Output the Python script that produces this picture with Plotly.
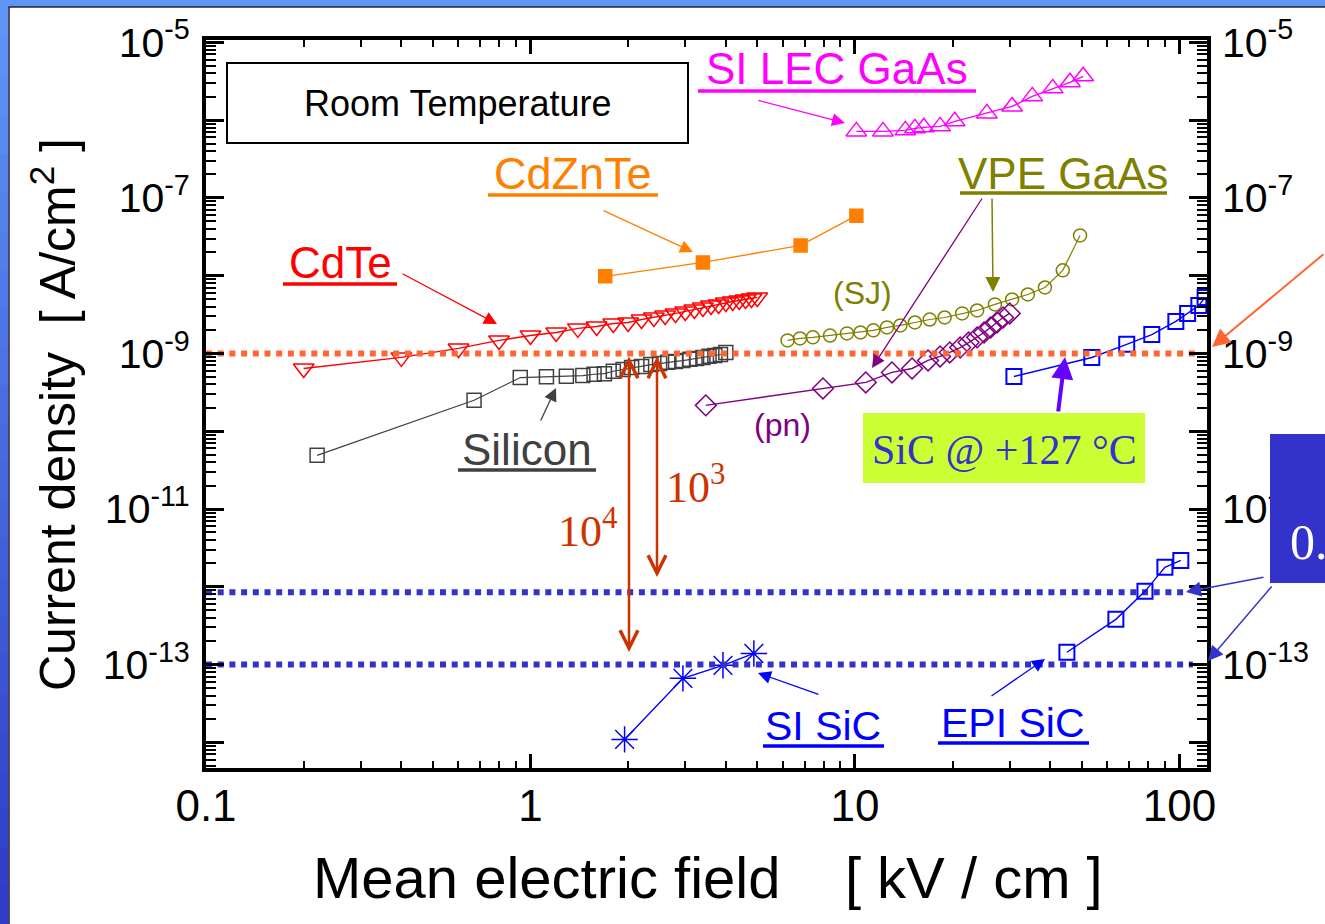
import plotly.graph_objects as go

# ---------------- data ----------------
cdte_x = [0.2, 0.4, 0.6, 0.8, 1.0, 1.2, 1.4, 1.6, 1.8, 2.0, 2.2, 2.4, 2.6, 2.8, 3.0,
          3.2, 3.4, 3.6, 3.8, 4.0, 4.2, 4.4, 4.6, 4.8, 5.0]
cdte_y = [6.4e-10, 8.9e-10, 1.16e-9, 1.47e-9, 1.70e-9, 1.86e-9, 2.10e-9, 2.22e-9, 2.43e-9,
          2.50e-9, 2.73e-9, 2.90e-9, 3.08e-9, 3.27e-9, 3.47e-9, 3.68e-9, 3.90e-9, 4.14e-9,
          4.26e-9, 4.53e-9, 4.66e-9, 4.80e-9, 4.94e-9, 5.09e-9, 5.25e-9]

si_x = [0.22, 0.67, 0.93, 1.12, 1.29, 1.45, 1.57, 1.69, 1.80, 1.93, 2.05, 2.2, 2.35, 2.5,
        2.65, 2.8, 2.95, 3.1, 3.25, 3.4, 3.55, 3.7, 3.85, 4.0]
si_y = [4.9e-11, 2.5e-10, 4.9e-10, 5.0e-10, 5.1e-10, 5.2e-10, 5.4e-10, 5.5e-10, 5.9e-10,
        6.2e-10, 6.6e-10, 6.8e-10, 7.2e-10, 7.4e-10, 7.7e-10, 7.9e-10, 8.1e-10, 8.4e-10,
        8.6e-10, 8.9e-10, 9.2e-10, 9.4e-10, 9.7e-10, 1.03e-9]

cdznte_x = [1.7, 3.4, 6.8, 10.1]
cdznte_y = [9.8e-9, 1.48e-8, 2.45e-8, 5.9e-8]

silec_x = [10.1, 12.2, 14.3, 15.3, 16.3, 18.3, 20.3, 25.5, 30.5, 35.2, 40.7, 46.0, 50.5]
silec_y = [7.16e-7, 7.16e-7, 7.38e-7, 7.83e-7, 8.07e-7, 8.31e-7, 9.64e-7, 1.22e-6, 1.50e-6,
           2.02e-6, 2.56e-6, 3.06e-6, 3.66e-6]

sj_x = [6.2, 6.77, 7.42, 8.38, 9.45, 10.4, 11.4, 12.55, 13.8, 15.3, 17.0, 18.9, 21.4, 23.8,
        27.0, 30.5, 34.1, 38.5, 43.7, 49.4]
sj_y = [1.47e-9, 1.56e-9, 1.61e-9, 1.70e-9, 1.81e-9, 1.86e-9, 1.98e-9, 2.16e-9, 2.29e-9,
        2.50e-9, 2.73e-9, 2.90e-9, 3.27e-9, 3.57e-9, 4.27e-9, 4.94e-9, 5.73e-9, 7.05e-9,
        1.17e-8, 3.29e-8]

pn_x = [3.47, 7.97, 10.8, 13.0, 15.0, 16.8, 18.3, 19.6, 21.1, 22.4, 23.8, 25.0, 26.2, 27.4,
        28.6, 30.0]
pn_y = [2.15e-10, 3.55e-10, 4.24e-10, 5.70e-10, 6.41e-10, 8.13e-10, 9.15e-10, 1.03e-9,
        1.19e-9, 1.38e-9, 1.61e-9, 1.86e-9, 2.16e-9, 2.50e-9, 2.90e-9, 3.27e-9]

sic127_x = [30.9, 53.7, 68.8, 82.2, 97.5, 106, 114.8, 120]
sic127_y = [5.06e-10, 8.88e-10, 1.31e-9, 1.75e-9, 2.58e-9, 3.27e-9, 4.14e-9, 5.25e-9]

episic_x = [45.0, 63.7, 78.3, 90.2, 101]
episic_y = [1.44e-13, 3.81e-13, 8.73e-13, 1.78e-12, 2.18e-12]

sisic_x = [1.95, 2.95, 3.92, 4.88]
sisic_y = [1.09e-14, 6.65e-14, 9.78e-14, 1.39e-13]

ref_orange_level = 1e-9
ref_orange_x = [0.1, 111.7]
ref_blue_levels = [8.5e-13, 1.0e-13]
ref_blue_x = [[0.1, 105.0], [0.1, 110.0]]

x_tickvals = [0.1, 1, 10, 100]
x_ticktext = ["0.1", "1", "10", "100"]
y_exponents = list(range(-14, -4))
y_tickvals = [10.0 ** e for e in y_exponents]
y_ticktext = [("10<sup>%d</sup>" % e) if e % 2 else "" for e in y_exponents]
x_minor = [k * 10.0 ** e for e in (-1, 0, 1) for k in range(2, 10)]
y_minor = [k * 10.0 ** e for e in range(-15, -5) for k in range(2, 10)]

# ---------------- geometry helpers ----------------
W, H = 1325, 924
L, R, T, B = 206, 1207, 40, 768
SANS = "Liberation Sans"
SERIF = "Liberation Serif"


def px(x):
    return (x - L) / (R - L)


def py(y):
    return (B - y) / (B - T)


fig = go.Figure()


def series(x, y, color, symbol, size, lw=1.4, mlw=1.5, yaxis="y"):
    fig.add_trace(go.Scatter(
        x=x, y=y, mode="lines+markers", yaxis=yaxis,
        line=dict(color=color, width=lw),
        marker=dict(symbol=symbol, size=size, color=color, line=dict(color=color, width=mlw)),
        showlegend=False, hoverinfo="skip"))


series(cdte_x, cdte_y, "#ff0000", "triangle-down-open", 18)
series(si_x, si_y, "#404040", "square-open", 14, lw=1.2)
series(cdznte_x, cdznte_y, "#ff8000", "square", 13)
series(silec_x, silec_y, "#ff00ff", "triangle-up-open", 18)
series(sj_x, sj_y, "#808000", "circle-open", 13, lw=1.2)
series(pn_x, pn_y, "#800080", "diamond-open", 16, lw=1.4)
series(sic127_x, sic127_y, "#0000ff", "square-open", 15, mlw=2)
series(episic_x, episic_y, "#0000ff", "square-open", 15, mlw=2, yaxis="y2")
series(sisic_x, sisic_y, "#0000ff", "asterisk-open", 22, lw=1.4, mlw=1.5)

# dotted reference levels (overlay)
fig.add_trace(go.Scatter(x=ref_orange_x, y=[ref_orange_level] * 2, mode="lines",
                         line=dict(color="#ff6633", width=6, dash="6px,5.7px"),
                         showlegend=False, hoverinfo="skip"))
for lvl, xs in zip(ref_blue_levels, ref_blue_x):
    fig.add_trace(go.Scatter(x=xs, y=[lvl] * 2, mode="lines",
                             line=dict(color="#3333cc", width=6, dash="6px,5.7px"),
                             showlegend=False, hoverinfo="skip"))

# ---------------- shapes ----------------
shapes = []
# slide frame (top strip + left gradient strip)
shapes.append(dict(type="rect", xref="paper", yref="paper", x0=px(0), x1=px(W), y0=py(0), y1=py(7),
                   fillcolor="#5b97f3", line=dict(width=0), layer="above"))
n = 24
c0 = (95, 150, 245)
c1 = (48, 60, 200)
for i in range(n):
    t = i / (n - 1)
    col = "rgb(%d,%d,%d)" % tuple(int(c0[k] + (c1[k] - c0[k]) * t) for k in range(3))
    shapes.append(dict(type="rect", xref="paper", yref="paper", x0=px(0), x1=px(8.5),
                       y0=py(i * H / n), y1=py((i + 1) * H / n + 1),
                       fillcolor=col, line=dict(width=0), layer="above"))
shapes.append(dict(type="line", xref="paper", yref="paper", x0=px(8.5), x1=px(W), y0=py(7), y1=py(7),
                   line=dict(color="#202040", width=1.5), layer="above"))
shapes.append(dict(type="line", xref="paper", yref="paper", x0=px(9), x1=px(9), y0=py(7), y1=py(H),
                   line=dict(color="#202040", width=1.5), layer="above"))

# Room temperature box
shapes.append(dict(type="rect", xref="paper", yref="paper", x0=px(227), x1=px(688), y0=py(63), y1=py(143),
                   fillcolor="white", line=dict(color="black", width=2), layer="above"))
# SiC @ +127 box
shapes.append(dict(type="rect", xref="paper", yref="paper", x0=px(863), x1=px(1145), y0=py(413), y1=py(483),
                   fillcolor="#ccff33", line=dict(width=0), layer="above"))
# right blue box
shapes.append(dict(type="rect", xref="paper", yref="paper", x0=px(1270), x1=px(1330), y0=py(434), y1=py(583),
                   fillcolor="#3333cc", line=dict(width=0), layer="above"))

# underlines
for x0, x1, y, col in [(283, 397, 284, "#ff0000"), (488, 658, 195, "#ff8000"), (698, 976, 91, "#ff00ff"),
                       (960, 1167, 193, "#808000"), (458, 596, 470, "#404040"),
                       (763, 884, 746, "#0000ff"), (938, 1089, 743, "#0000ff")]:
    shapes.append(dict(type="line", xref="paper", yref="paper", x0=px(x0), x1=px(x1), y0=py(y), y1=py(y),
                       line=dict(color=col, width=3.5), layer="above"))

# ---------------- annotations ----------------
ann = []


def label(x, y, text, color, size, family=SANS, xanchor="center", yanchor="middle", angle=0):
    ann.append(dict(x=px(x), y=py(y), xref="paper", yref="paper", text=text, showarrow=False,
                    xanchor=xanchor, yanchor=yanchor, textangle=angle,
                    font=dict(family=family, size=size, color=color)))


def arrow(x0, y0, x1, y1, color, width, head=2, size=2.0, both=False):
    ann.append(dict(x=px(x1), y=py(y1), xref="paper", yref="paper", ax=x0 - x1, ay=y0 - y1,
                    axref="pixel", ayref="pixel", text="", showarrow=True, arrowhead=head,
                    startarrowhead=head, arrowsize=size, startarrowsize=size, arrowwidth=width,
                    arrowcolor=color, arrowside="end+start" if both else "end",
                    standoff=0, startstandoff=0))


label(457, 103, "Room Temperature", "black", 36)
label(340, 262, "CdTe", "#ff0000", 44)
label(573, 173, "CdZnTe", "#ff8000", 45)
label(837, 69, "SI LEC GaAs", "#ff00ff", 44)
label(1063, 173, "VPE GaAs", "#808000", 44)
label(527, 449, "Silicon", "#404040", 44)
label(823, 726, "SI SiC", "#0000ff", 41)
label(1013, 723, "EPI SiC", "#0000ff", 41)
label(862, 293, "(SJ)", "#808000", 32)
label(782, 425, "(pn)", "#800080", 32)
label(1004, 450, "SiC @ +127 °C", "#3333cc", 42, family=SERIF)
label(556, 528, "10<sup>4</sup>", "#cc3300", 44, family=SERIF, xanchor="left")
label(664, 484, "10<sup>3</sup>", "#cc3300", 44, family=SERIF, xanchor="left")
label(1288, 542, "0.", "white", 50, family=SERIF, xanchor="left")
label(708, 878, "Mean electric field\u00a0\u00a0\u00a0\u00a0[ kV / cm ]", "black", 58)
label(54, 415, "Current density\u00a0\u00a0[ A/cm<sup>2</sup> ]", "black", 50, angle=-90)

arrow(401, 273, 497, 324, "#ff0000", 1.3)
arrow(602, 210, 693, 252, "#ff8000", 1.3)
arrow(757, 100, 845, 123, "#ff00ff", 1.3)
arrow(992, 197, 993, 292, "#808000", 1.5)
arrow(983, 197, 872, 368, "#800080", 1.3)
arrow(540, 422, 556, 388, "#404040", 1.3)
arrow(820, 695, 758, 673, "#0000ff", 1.3)
arrow(990, 697, 1045, 659, "#0000ff", 1.3)
arrow(1058, 413, 1065, 357, "#6600ff", 4, size=1.1)
arrow(1330, 253, 1212, 347, "#ff6633", 2, size=1.8)
arrow(1265, 577, 1186, 592, "#3333cc", 1.5, size=2)
arrow(1273, 585, 1208, 661, "#3333cc", 1.5, size=2)
arrow(629, 355, 629, 652, "#cc3300", 2.5, head=5, size=1.4, both=True)
arrow(657, 355, 657, 577, "#cc3300", 2.5, head=5, size=1.4, both=True)

# ---------------- layout ----------------
yax_common = dict(type="log", range=[-14.33, -4.97], tickmode="array", tickvals=y_tickvals,
                  ticktext=y_ticktext, showgrid=False, zeroline=False,
                  tickfont=dict(family=SANS, size=41, color="black"))

fig.update_layout(
    width=W, height=H, autosize=False,
    margin=dict(l=L, r=W - R, t=T, b=H - B, pad=0),
    paper_bgcolor="white", plot_bgcolor="white", showlegend=False,
    xaxis=dict(type="log", range=[-1, 2.085], tickmode="array", tickvals=x_tickvals, ticktext=x_ticktext,
               showline=True, linecolor="black", linewidth=4, mirror="ticks",
               ticks="inside", ticklen=14, tickwidth=3, tickcolor="black",
               tickfont=dict(family=SANS, size=44, color="black"), ticklabelstandoff=-4,
               showgrid=False, zeroline=False,
               minor=dict(tickmode="array", tickvals=x_minor, ticks="inside", ticklen=7,
                          tickwidth=2, tickcolor="black", showgrid=False)),
    yaxis=dict(**yax_common, showline=True, linecolor="black", linewidth=4, mirror="ticks",
               ticks="inside", ticklen=18, tickwidth=3, tickcolor="black", ticklabelstandoff=4,
               minor=dict(tickmode="array", tickvals=y_minor, ticks="inside", ticklen=10,
                          tickwidth=2, tickcolor="black", showgrid=False)),
    yaxis2=dict(**yax_common, overlaying="y", side="right", showline=False, ticks="",
                ticklabelstandoff=14),
    shapes=shapes, annotations=ann,
)

fig.write_html("out.html")
